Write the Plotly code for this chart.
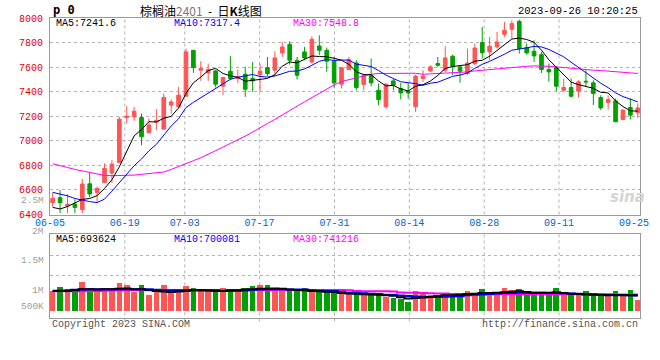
import plotly.graph_objects as go

W, H = 660, 360
ML, MR, MT, MB = 50, 11, 18, 42
PW = W - ML - MR
PH = H - MT - MB


def px(x):
    return (x - ML) / PW


def py(y):
    return (H - MB - y) / PH


dates = [
    "06-05", "06-06", "06-07", "06-08", "06-09", "06-12", "06-13", "06-14", "06-15", "06-16",
    "06-19", "06-20", "06-21", "06-26", "06-27", "06-28", "06-29", "06-30",
    "07-03", "07-04", "07-05", "07-06", "07-07", "07-10", "07-11", "07-12", "07-13", "07-14",
    "07-17", "07-18", "07-19", "07-20", "07-21", "07-24", "07-25", "07-26", "07-27", "07-28",
    "07-31", "08-01", "08-02", "08-03", "08-04", "08-07", "08-08", "08-09", "08-10", "08-11",
    "08-14", "08-15", "08-16", "08-17", "08-18", "08-21", "08-22", "08-23", "08-24", "08-25",
    "08-28", "08-29", "08-30", "08-31", "09-01", "09-04", "09-05", "09-06", "09-07", "09-08",
    "09-11", "09-12", "09-13", "09-14", "09-15", "09-18", "09-19", "09-20", "09-21", "09-22",
    "09-25", "09-26",
]

opens = [6496, 6537, 6469, 6485, 6440, 6650, 6578, 6659, 6738, 6821,
         7190, 7195, 7190, 7065, 7152, 7095, 7290, 7277, 7363, 7737,
         7575, 7553, 7569, 7445, 7567, 7507, 7542, 7507, 7539, 7596,
         7575, 7716, 7786, 7656, 7724, 7642, 7772, 7737, 7648, 7461,
         7580, 7634, 7458, 7534, 7412, 7277, 7488, 7426, 7404, 7277,
         7507, 7569, 7629, 7575, 7689, 7602, 7548, 7629, 7800, 7724,
         7764, 7867, 7908, 7973, 7759, 7729, 7702, 7580, 7596, 7412,
         7434, 7404, 7485, 7472, 7352, 7312, 7325, 7174, 7271, 7228]
highs = [6577, 6599, 6567, 6523, 6690, 6745, 6626, 6816, 6843, 7195,
         7282, 7277, 7222, 7182, 7258, 7385, 7336, 7439, 7751, 7737,
         7648, 7629, 7580, 7521, 7689, 7580, 7602, 7642, 7629, 7683,
         7729, 7805, 7810, 7683, 7764, 7851, 7859, 7759, 7683, 7602,
         7683, 7656, 7548, 7670, 7466, 7472, 7507, 7472, 7472, 7539,
         7575, 7615, 7683, 7770, 7702, 7615, 7751, 7791, 7927, 7846,
         7886, 7968, 7981, 7987, 7791, 7818, 7724, 7629, 7607, 7507,
         7507, 7493, 7575, 7493, 7371, 7371, 7344, 7255, 7344, 7304]
lows = [6464, 6410, 6410, 6412, 6410, 6540, 6495, 6659, 6655, 6821,
        7141, 7163, 6965, 7060, 7087, 7095, 7222, 7277, 7363, 7553,
        7488, 7488, 7434, 7372, 7493, 7472, 7358, 7399, 7404, 7526,
        7526, 7683, 7621, 7499, 7656, 7629, 7697, 7561, 7434, 7426,
        7575, 7412, 7412, 7445, 7290, 7260, 7412, 7336, 7344, 7236,
        7480, 7561, 7602, 7561, 7534, 7472, 7534, 7615, 7670, 7656,
        7751, 7846, 7832, 7710, 7702, 7642, 7553, 7480, 7404, 7399,
        7352, 7352, 7439, 7290, 7250, 7255, 7155, 7168, 7174, 7187]
closes = [6531, 6496, 6483, 6458, 6648, 6567, 6613, 6775, 6810, 7176,
          7200, 7241, 7033, 7128, 7165, 7353, 7317, 7372, 7724, 7596,
          7588, 7580, 7461, 7515, 7507, 7520, 7420, 7488, 7567, 7547,
          7675, 7764, 7656, 7534, 7675, 7827, 7737, 7648, 7472, 7594,
          7661, 7434, 7534, 7472, 7336, 7461, 7453, 7390, 7390, 7526,
          7528, 7602, 7615, 7675, 7607, 7567, 7634, 7756, 7716, 7770,
          7805, 7900, 7954, 7751, 7716, 7691, 7580, 7561, 7445, 7434,
          7363, 7480, 7480, 7385, 7268, 7336, 7155, 7250, 7209, 7268]

ma5 = [6458, 6445, 6465, 6495, 6523, 6530, 6554, 6612, 6683, 6788,
       6915, 7040, 7092, 7156, 7153, 7184, 7199, 7267, 7386, 7472,
       7519, 7572, 7590, 7548, 7530, 7517, 7485, 7490, 7500, 7508,
       7539, 7608, 7642, 7635, 7661, 7691, 7686, 7684, 7672, 7656,
       7622, 7562, 7539, 7539, 7487, 7447, 7451, 7422, 7406, 7444,
       7457, 7487, 7532, 7589, 7605, 7613, 7620, 7648, 7656, 7689,
       7736, 7789, 7829, 7836, 7825, 7802, 7738, 7660, 7599, 7542,
       7477, 7457, 7440, 7428, 7395, 7390, 7325, 7279, 7244, 7241.6]
ma10 = [6580, 6568, 6552, 6530, 6515, 6505, 6497, 6525, 6590, 6656,
        6723, 6797, 6852, 6919, 6971, 7049, 7120, 7180, 7271, 7313,
        7352, 7386, 7428, 7467, 7501, 7518, 7528, 7540, 7524, 7519,
        7528, 7546, 7566, 7568, 7585, 7615, 7647, 7663, 7654, 7658,
        7657, 7624, 7612, 7605, 7572, 7535, 7507, 7481, 7473, 7466,
        7452, 7469, 7477, 7498, 7525, 7535, 7553, 7590, 7623, 7647,
        7675, 7705, 7738, 7746, 7757, 7769, 7764, 7744, 7717, 7684,
        7640, 7598, 7550, 7514, 7469, 7433, 7391, 7360, 7336, 7317.4]
ma30 = [6813, 6800, 6783, 6767, 6754, 6740, 6727, 6718, 6716, 6716,
        6716, 6721, 6727, 6735, 6738, 6746, 6767, 6789, 6816, 6838,
        6862, 6889, 6919, 6949, 6979, 7006, 7038, 7071, 7109, 7141,
        7174, 7212, 7250, 7282, 7317, 7353, 7390, 7426, 7455, 7483,
        7499, 7515, 7526, 7542, 7548, 7550, 7550, 7550, 7550, 7550,
        7542, 7545, 7548, 7550, 7553, 7556, 7561, 7569, 7575, 7580,
        7588, 7591, 7596, 7602, 7607, 7610, 7610, 7607, 7602, 7596,
        7591, 7586, 7580, 7575, 7572, 7569, 7564, 7558, 7553, 7548.8]

volumes = [882000, 1077000, 986000, 882000, 1305000, 973000, 882000, 1032000, 973000, 1259000,
           1168000, 850000, 1168000, 714000, 882000, 1168000, 882000, 882000, 1123000, 1032000,
           882000, 882000, 986000, 1032000, 986000, 895000, 1032000, 1123000, 1168000, 1168000,
           973000, 973000, 895000, 923000, 1032000, 895000, 895000, 865000, 850000, 820000,
           744000, 820000, 744000, 744000, 744000, 638000, 592000, 547000, 395000, 895000,
           774000, 729000, 668000, 774000, 714000, 774000, 895000, 804000, 986000, 774000,
           774000, 1032000, 941000, 986000, 820000, 774000, 820000, 820000, 1032000, 774000,
           774000, 774000, 895000, 774000, 774000, 740000, 900000, 660000, 950000, 470000]
vol_ma5 = [910000, 910000, 920000, 930000, 970000, 970000, 960000, 970000, 970000, 1000000,
           1010000, 970000, 970000, 940000, 900000, 870000, 850000, 870000, 900000, 930000,
           930000, 920000, 900000, 900000, 930000, 930000, 960000, 980000, 1000000, 1000000,
           1010000, 1000000, 960000, 940000, 930000, 900000, 880000, 860000, 850000, 800000,
           780000, 770000, 750000, 740000, 720000, 700000, 680000, 610000, 550000, 580000,
           600000, 620000, 670000, 700000, 700000, 730000, 760000, 770000, 800000, 800000,
           820000, 840000, 860000, 880000, 850000, 820000, 820000, 820000, 840000, 800000,
           770000, 760000, 740000, 720000, 720000, 700000, 700000, 700000, 700000, 693624]
vol_ma10 = [900000, 900000, 900000, 950000, 960000, 970000, 970000, 970000, 970000, 970000,
            970000, 970000, 970000, 970000, 950000, 930000, 930000, 930000, 930000, 930000,
            930000, 930000, 930000, 900000, 900000, 910000, 920000, 950000, 960000, 970000,
            970000, 970000, 960000, 960000, 960000, 930000, 910000, 900000, 890000, 850000,
            820000, 810000, 790000, 770000, 760000, 730000, 710000, 690000, 670000, 650000,
            630000, 620000, 620000, 630000, 640000, 660000, 700000, 720000, 740000, 760000,
            780000, 800000, 810000, 820000, 820000, 820000, 820000, 810000, 810000, 790000,
            780000, 770000, 760000, 750000, 730000, 720000, 710000, 710000, 700000, 700081]
vol_ma30 = [880000, 880000, 880000, 880000, 880000, 890000, 900000, 910000, 920000, 920000,
            930000, 930000, 930000, 930000, 930000, 930000, 930000, 930000, 930000, 930000,
            930000, 930000, 930000, 930000, 930000, 940000, 940000, 940000, 940000, 940000,
            940000, 940000, 940000, 940000, 940000, 940000, 940000, 940000, 940000, 940000,
            930000, 890000, 880000, 880000, 880000, 880000, 870000, 830000, 820000, 820000,
            810000, 790000, 780000, 780000, 760000, 760000, 760000, 750000, 750000, 750000,
            750000, 750000, 750000, 750000, 750000, 750000, 750000, 750000, 750000, 750000,
            750000, 750000, 740000, 740000, 740000, 740000, 740000, 740000, 740000, 741216]

tick_dates = ["06-05", "06-19", "07-03", "07-17", "07-31", "08-14", "08-28", "09-11", "09-25"]
price_ticks = [6400, 6600, 6800, 7000, 7200, 7400, 7600, 7800, 8000]
vol_tick_labels = ["2.5M", "2M", "1.5M", "1M", "500K"]
vol_label_y = [200, 231, 260, 290, 306]

idx = list(range(len(dates)))
tick_pos = [dates.index(d) for d in tick_dates]

RED = "#ff5555"
GREEN = "#00a000"
MONO = "Liberation Mono, DejaVu Sans Mono, monospace"
GRID = "#b4b4b4"
FRAME = "#9a9a9a"

fig = go.Figure()
fig.add_trace(go.Candlestick(
    x=idx, open=opens, high=highs, low=lows, close=closes,
    increasing=dict(line=dict(color=RED, width=1), fillcolor=RED),
    decreasing=dict(line=dict(color=GREEN, width=1), fillcolor=GREEN),
    whiskerwidth=0, xaxis="x", yaxis="y", showlegend=False, hoverinfo="skip"))
for vals, col in [(ma30, "#ff00ff"), (ma10, "#0000ff"), (ma5, "#000000")]:
    fig.add_trace(go.Scatter(x=idx, y=vals, mode="lines", line=dict(color=col, width=1),
                             xaxis="x", yaxis="y", showlegend=False, hoverinfo="skip"))

bar_colors = [RED if c >= o else GREEN for o, c in zip(opens, closes)]
fig.add_trace(go.Bar(x=idx, y=volumes, width=0.76,
                     marker=dict(color=bar_colors, line=dict(width=0)),
                     xaxis="x2", yaxis="y2", showlegend=False, hoverinfo="skip"))
for vals, col in [(vol_ma30, "#ff00ff"), (vol_ma10, "#0000ff"), (vol_ma5, "#000000")]:
    fig.add_trace(go.Scatter(x=idx, y=vals, mode="lines", line=dict(color=col, width=2, shape="hvh"),
                             xaxis="x2", yaxis="y2", showlegend=False, hoverinfo="skip"))

# date-label axis (Sina spaces its date grid slightly differently from the candles)
fig.add_trace(go.Scatter(x=[tick_pos[0], tick_pos[-1]], y=[None, None], mode="lines",
                         xaxis="x3", yaxis="y", showlegend=False, hoverinfo="skip"))

shapes = []
for p in tick_pos[1:-1]:
    shapes.append(dict(type="line", xref="x3", yref="y domain", x0=p, x1=p, y0=0, y1=1,
                       line=dict(color=GRID, width=1, dash="dot"), layer="below"))
    shapes.append(dict(type="line", xref="x3", yref="y2 domain", x0=p, x1=p, y0=-0.04, y1=1,
                       line=dict(color=GRID, width=1, dash="dot"), layer="below"))

ann = []


def text(x, y, s, color="#000", size=10, anchor="left", family=MONO):
    ann.append(dict(x=px(x), y=py(y), xref="paper", yref="paper", text=s, showarrow=False,
                    xanchor=anchor, yanchor="middle", font=dict(family=family, size=size, color=color)))


text(51, 10, "<b>p 0</b>", size=12, family="DejaVu Sans Mono")
text(139, 10, "棕榈油<span style='color:#7a7a7a'>2401</span>  -  日<b>K</b>线图", size=12,
     family="Noto Sans CJK SC")
text(649, 11, "2023-09-26 10:20:25", size=10.5, anchor="right")
text(54, 23.5, f"MA5:{ma5[-1]}", color="#000000")
text(174, 23.5, f"MA10:{ma10[-1]}", color="#0000ff")
text(295, 23.5, f"MA30:{ma30[-1]}", color="#ff00ff")
text(54, 239, f"MA5:{vol_ma5[-1]}", color="#000000")
text(174, 239, f"MA10:{vol_ma10[-1]}", color="#0000ff")
text(295, 239, f"MA30:{vol_ma30[-1]}", color="#ff00ff")
for lab, yy in zip(vol_tick_labels, vol_label_y):
    text(46, yy, lab, color="#a0a0a0", anchor="right", size=9.5)
text(50, 324, "Copyright 2023 SINA.COM", color="#555555")
text(649, 324, "http://finance.sina.com.cn", color="#555555", anchor="right")
text(636, 197, "<b><i>sina</i></b>", color="#d4d4d4", size=15, anchor="center", family="DejaVu Sans")

fig.update_layout(
    width=W, height=H,
    margin=dict(l=ML, r=MR, t=MT, b=MB),
    paper_bgcolor="white", plot_bgcolor="white",
    showlegend=False, bargap=0,
    xaxis=dict(domain=[0, 1], anchor="y", range=[-0.36, 79.3],
               showticklabels=False,
               showgrid=False, zeroline=False, ticks="",
               showline=True, mirror=True, linecolor=FRAME, linewidth=1,
               rangeslider=dict(visible=False)),
    xaxis3=dict(overlaying="x", anchor="y", side="bottom", range=[0, PW / 7.6],
                tickmode="array", tickvals=tick_pos, ticktext=tick_dates,
                tickfont=dict(family=MONO, size=10, color="#0066cc"),
                showgrid=False, zeroline=False, ticks="", showline=False),
    yaxis=dict(domain=[py(214.5), 1], anchor="x", range=[6400, 8000],
               tickmode="array", tickvals=price_ticks,
               tickfont=dict(family=MONO, size=10, color="#e00000"),
               showgrid=True, gridcolor=GRID, griddash="dot", gridwidth=1,
               zeroline=False, ticks="", ticklabelstandoff=4,
               showline=True, mirror=True, linecolor=FRAME, linewidth=1),
    xaxis2=dict(domain=[0, 1], anchor="y2", matches="x", showticklabels=False,
                showgrid=False, zeroline=False, ticks="",
                showline=True, mirror=True, linecolor=FRAME, linewidth=1),
    yaxis2=dict(domain=[0, py(234)], anchor="x2", range=[-331818, 3486364],
                tickmode="array", tickvals=[1600000, 2500000], showticklabels=False,
                showgrid=True, gridcolor=GRID, griddash="dot", gridwidth=1,
                zeroline=False, ticks="",
                showline=True, mirror=True, linecolor=FRAME, linewidth=1),
    shapes=shapes,
    annotations=ann,
)

fig.write_html("out.html", config={"displayModeBar": False},
               post_script="document.body.style.margin='0';")
